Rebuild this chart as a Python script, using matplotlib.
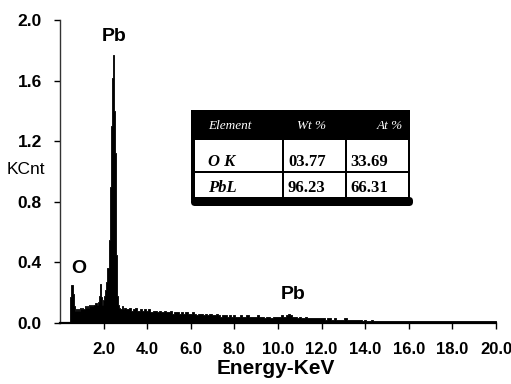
import matplotlib
matplotlib.use("Agg")
import matplotlib.pyplot as plt
from matplotlib.patches import Rectangle, FancyBboxPatch

# ---------------- data ----------------
# low-energy region (keV, 0.05 steps)
energy_low = [0.45, 0.50, 0.55, 0.60, 0.65, 0.70, 0.75, 0.80, 0.85, 0.90,
              0.95, 1.00, 1.05, 1.10, 1.15, 1.20, 1.25, 1.30, 1.35, 1.40,
              1.45, 1.50, 1.55, 1.60, 1.65, 1.70, 1.75, 1.80, 1.85, 1.90,
              1.95, 2.00, 2.05, 2.10, 2.15, 2.20, 2.25, 2.30, 2.35, 2.40,
              2.45, 2.50, 2.55, 2.60, 2.65, 2.70, 2.75, 2.80, 2.85, 2.90,
              2.95]
counts_low = [0.00, 0.17, 0.25, 0.19, 0.11, 0.08, 0.09, 0.08, 0.09, 0.08,
              0.10, 0.09, 0.10, 0.09, 0.11, 0.10, 0.11, 0.10, 0.12, 0.11,
              0.12, 0.11, 0.12, 0.12, 0.13, 0.12, 0.14, 0.18, 0.26, 0.17,
              0.12, 0.15, 0.18, 0.22, 0.27, 0.36, 0.55, 0.90, 1.30, 1.62,
              1.77, 1.40, 1.12, 0.45, 0.18, 0.12, 0.10, 0.09, 0.11, 0.09,
              0.10]
# higher-energy region (keV)
energy_high = [3.0, 3.1, 3.2, 3.3, 3.4, 3.5, 3.6, 3.7, 3.8, 3.9,
               4.0, 4.1, 4.2, 4.3, 4.4, 4.5, 4.6, 4.7, 4.8, 4.9,
               5.0, 5.1, 5.2, 5.3, 5.4, 5.5, 5.6, 5.7, 5.8, 5.9,
               6.0, 6.1, 6.2, 6.3, 6.4, 6.5, 6.6, 6.7, 6.8, 6.9,
               7.0, 7.1, 7.2, 7.3, 7.4, 7.5, 7.6, 7.7, 7.8, 7.9,
               8.0, 8.1, 8.2, 8.3, 8.4, 8.5, 8.6, 8.7, 8.8, 8.9,
               9.0, 9.1, 9.2, 9.3, 9.4, 9.5, 9.6, 9.7, 9.8, 9.9,
               10.0, 10.1, 10.2, 10.3, 10.4, 10.5, 10.6, 10.7, 10.8, 10.9,
               11.0, 11.1, 11.2, 11.3, 11.4, 11.5, 11.6, 11.7, 11.8, 11.9,
               12.0, 12.1, 12.2, 12.3, 12.4, 12.5, 12.6, 12.7, 12.8, 12.9,
               13.0, 13.1, 13.2, 13.3, 13.4, 13.5, 13.6, 13.7, 13.8, 13.9,
               14.0, 14.1, 14.2, 14.3, 14.4, 14.5, 14.6, 14.7, 14.8, 14.9,
               15.0, 15.5, 16.0, 16.5, 17.0, 17.5, 18.0, 18.5, 19.0, 19.5,
               20.0]
counts_high = [0.10, 0.09, 0.10, 0.08, 0.09, 0.10, 0.08, 0.09, 0.08, 0.09,
               0.08, 0.09, 0.07, 0.08, 0.08, 0.07, 0.08, 0.07, 0.08, 0.07,
               0.07, 0.08, 0.06, 0.07, 0.07, 0.06, 0.07, 0.06, 0.07, 0.06,
               0.06, 0.07, 0.06, 0.05, 0.06, 0.06, 0.05, 0.06, 0.05, 0.06,
               0.05, 0.05, 0.06, 0.05, 0.04, 0.05, 0.05, 0.04, 0.05, 0.04,
               0.05, 0.04, 0.04, 0.05, 0.04, 0.04, 0.05, 0.04, 0.04, 0.04,
               0.04, 0.05, 0.04, 0.04, 0.03, 0.04, 0.04, 0.03, 0.04, 0.04,
               0.04, 0.04, 0.05, 0.04, 0.05, 0.06, 0.05, 0.04, 0.04, 0.03,
               0.04, 0.03, 0.03, 0.04, 0.03, 0.03, 0.03, 0.03, 0.03, 0.03,
               0.03, 0.03, 0.02, 0.03, 0.03, 0.02, 0.03, 0.02, 0.02, 0.02,
               0.02, 0.03, 0.02, 0.02, 0.02, 0.02, 0.02, 0.02, 0.02, 0.015,
               0.02, 0.015, 0.015, 0.02, 0.015, 0.015, 0.015, 0.015, 0.015, 0.015,
               0.015, 0.012, 0.012, 0.012, 0.011, 0.011, 0.010, 0.010, 0.010, 0.010,
               0.010]

x_ticks = [2.0, 4.0, 6.0, 8.0, 10.0, 12.0, 14.0, 16.0, 18.0, 20.0]
y_ticks = [0.0, 0.4, 0.8, 1.2, 1.6, 2.0]

peak_labels = ["Pb", "O", "Pb"]
peak_label_x = [2.46, 0.85, 10.7]
peak_label_y = [1.89, 0.36, 0.185]

table_header = ["Element", "Wt %", "At %"]
table_rows = [["O K", "03.77", "33.69"],
              ["PbL", "96.23", "66.31"]]

energy = energy_low + energy_high
counts = counts_low + counts_high

# ---------------- figure ----------------
W, H = 511, 384
fig = plt.figure(figsize=(W / 100, H / 100), dpi=100)
plt.rcParams['font.family'] = ['Liberation Sans', 'DejaVu Sans']

ax = fig.add_axes([60 / W, 1 - 323 / H, (496 - 60) / W, (323 - 20) / H])
ax.fill_between(energy, counts, 0, step='mid', color='black', lw=0.6,
                edgecolor='black')
ax.set_xlim(0, 20)
ax.set_ylim(0, 2.0)
ax.set_xticks(x_ticks)
ax.set_xticklabels([f"{v:.1f}" for v in x_ticks])
ax.set_yticks(y_ticks)
ax.set_yticklabels([f"{v:.1f}" for v in y_ticks])
for s in ['top', 'right']:
    ax.spines[s].set_visible(False)
ax.spines['left'].set_linewidth(1.0)
ax.spines['left'].set_color('#333333')
ax.spines['bottom'].set_linewidth(1.6)
ax.tick_params(axis='x', direction='out', length=4, width=1, pad=10,
               labelsize=12)
ax.tick_params(axis='y', direction='out', length=4, width=1, pad=9,
               labelsize=12.5)
for lab in ax.get_xticklabels() + ax.get_yticklabels():
    lab.set_fontweight('bold')

for t, xx, yy in zip(peak_labels, peak_label_x, peak_label_y):
    ax.text(xx, yy, t, ha='center', va='center', fontsize=14,
            fontweight='bold')

fig.text(275.5 / W, 1 - 368 / H, "Energy-KeV", ha='center', va='center',
         fontsize=15, fontweight='bold')
fig.text(26 / W, 1 - 170 / H, "KCnt", ha='center', va='center',
         fontsize=12.5)

# ---------------- composition table ----------------
tx0, ty0, tx1, ty1 = 189, 108, 414, 208
tax = fig.add_axes([tx0 / W, 1 - ty1 / H, (tx1 - tx0) / W, (ty1 - ty0) / H])
tax.set_xlim(tx0, tx1)
tax.set_ylim(ty1, ty0)
tax.axis('off')

serif = ['Liberation Serif', 'DejaVu Serif']
# black frame
tax.add_patch(Rectangle((191, 110), 410 - 191, 200 - 110, color='black', lw=0))
# bottom rounded bar
tax.add_patch(FancyBboxPatch((191, 197), 413 - 191, 206 - 197,
                             boxstyle="round,pad=0,rounding_size=4",
                             color='black', lw=0))
col_edges = [(195, 282), (284, 345), (347, 408)]
row_edges = [(140, 171), (173, 197)]
for (r0, r1) in row_edges:
    for (c0, c1) in col_edges:
        tax.add_patch(Rectangle((c0, r0), c1 - c0, r1 - r0,
                                color='white', lw=0))

head_x = [208, 297, 377]
for txt, hx in zip(table_header, head_x):
    tax.text(hx, 126, txt, color='white', fontsize=9.5, style='italic',
             family=serif, ha='left', va='center')
cell_x = [208, 288, 350]
row_y = [162.5, 187.5]
for row, ry in zip(table_rows, row_y):
    for j, (txt, cx) in enumerate(zip(row, cell_x)):
        tax.text(cx, ry, txt, color='black', fontsize=12, fontweight='bold',
                 style='italic' if j == 0 else 'normal', family=serif,
                 ha='left', va='center')

fig.savefig("out.png", dpi=100)
